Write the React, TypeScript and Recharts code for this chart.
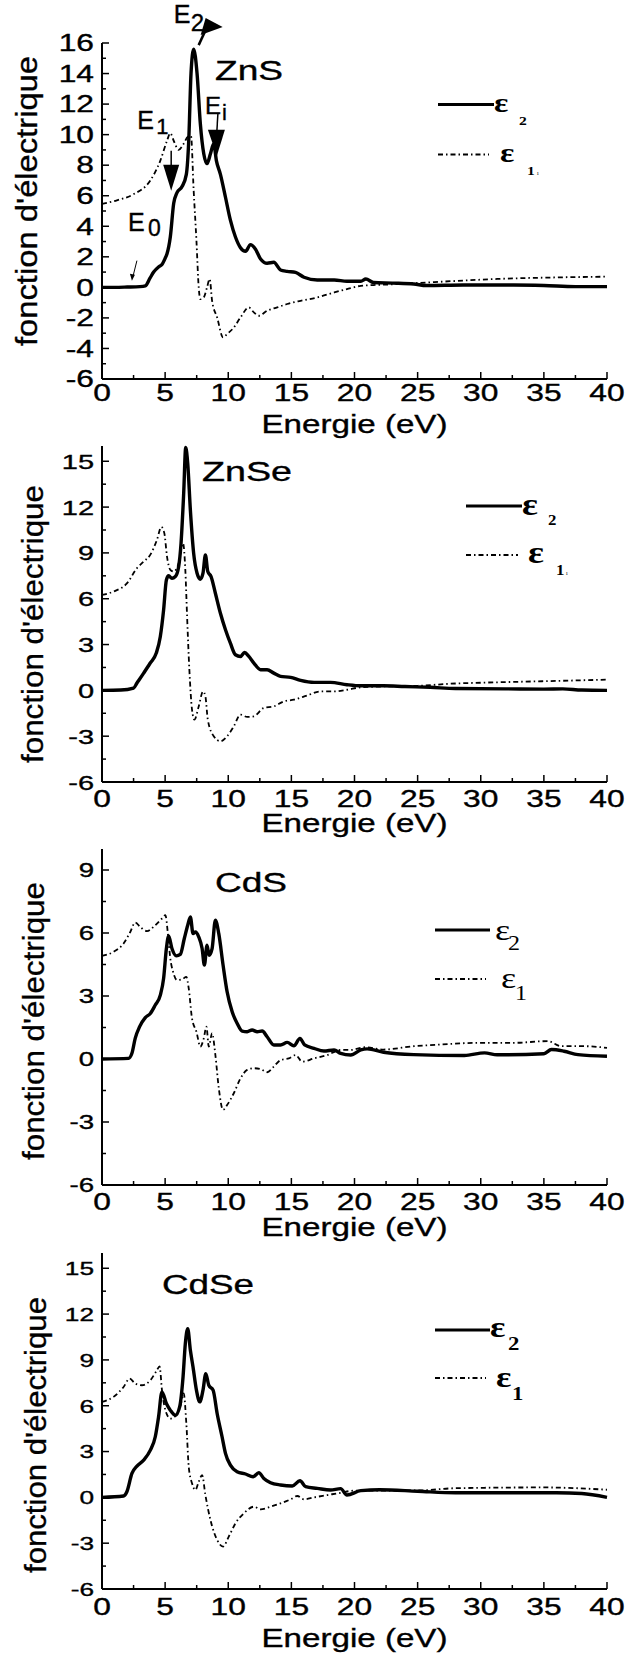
import React from 'react';
import { LineChart, Line, XAxis, YAxis, ReferenceDot, Customized } from 'recharts';

type Pt = [number, number];

// ---------- axes ----------
const ENERGY_TICKS = [0, 2.5, 5, 7.5, 10, 12.5, 15, 17.5, 20, 22.5, 25, 27.5, 30, 32.5, 35, 37.5, 40];
const ENERGY_LABELS = [0, 5, 10, 15, 20, 25, 30, 35, 40];
const TOP_TICKS = [0, 4, 8, 12, 16, 20, 24, 28, 32, 36, 40];

const ZNS_Y_TICKS = [-6, -5, -4, -3, -2, -1, 0, 1, 2, 3, 4, 5, 6, 7, 8, 9, 10, 11, 12, 13, 14, 15, 16];
const ZNS_Y_LABELS = [-6, -4, -2, 0, 2, 4, 6, 8, 10, 12, 14, 16];
const WIDE_Y_TICKS = [-6, -4.5, -3, -1.5, 0, 1.5, 3, 4.5, 6, 7.5, 9, 10.5, 12, 13.5, 15];
const WIDE_Y_LABELS = [-6, -3, 0, 3, 6, 9, 12, 15];
const WIDE_RIGHT_TICKS = [-6, -3.8, -1.6, 0.6, 2.8, 5, 7.2, 9.4, 11.6, 13.8, 16];
const CDS_Y_TICKS = [-6, -4.5, -3, -1.5, 0, 1.5, 3, 4.5, 6, 7.5, 9];
const CDS_Y_LABELS = [-6, -3, 0, 3, 6, 9];
const CDS_RIGHT_TICKS = [-6, -4.4, -2.8, -1.2, 0.4, 2, 3.6, 5.2, 6.8, 8.4, 10];

// ---------- data (energy eV, value) ----------
const ZNS_EPS2: Pt[] = [[0, 0], [1, 0], [2, 0.02], [3, 0.05], [3.43, 0.1], [3.8, 0.6], [4.09, 1.0], [4.5, 1.35], [4.75, 1.5], [5.0, 1.9], [5.15, 2.2], [5.41, 3.3], [5.68, 5.5], [5.94, 6.2], [6.34, 6.6], [6.68, 7.4], [6.87, 9.6], [7.05, 14.0], [7.26, 15.6], [7.53, 14.0], [7.79, 10.7], [8.06, 8.75], [8.32, 8.1], [8.59, 8.75], [8.85, 9.4], [9.06, 8.3], [9.38, 7.4], [9.78, 5.9], [10.17, 4.4], [10.57, 3.3], [10.97, 2.6], [11.37, 2.36], [11.76, 2.8], [12.16, 2.5], [12.56, 1.86], [13.08, 1.58], [13.61, 1.64], [14.14, 1.14], [14.67, 1.05], [15.33, 0.98], [16.0, 0.66], [17.05, 0.48], [18.4, 0.48], [19.4, 0.4], [20.5, 0.4], [20.9, 0.55], [21.5, 0.32], [23, 0.28], [24.7, 0.22], [25.7, 0.12], [28.6, 0.15], [32.6, 0.15], [35, 0.12], [37.5, 0.05], [40, 0.05]];
const ZNS_EPS1: Pt[] = [[0, 5.47], [1.18, 5.7], [2.5, 6.1], [3.83, 7.0], [4.62, 8.3], [5.15, 9.6], [5.41, 10.1], [5.68, 9.6], [6.07, 9.0], [6.47, 9.4], [6.79, 9.85], [7.05, 9.9], [7.26, 6.35], [7.48, 3.06], [7.66, 0], [7.79, -0.77], [8.06, -0.66], [8.32, 0], [8.53, 0.55], [8.72, -0.88], [9.12, -1.97], [9.59, -3.28], [9.91, -3.06], [10.44, -2.63], [10.97, -1.97], [11.63, -1.31], [12.03, -1.64], [12.42, -1.86], [13.08, -1.53], [13.88, -1.31], [14.67, -1.09], [15.73, -0.88], [17.05, -0.66], [18.4, -0.33], [19.4, -0.11], [20.5, 0.1], [21.5, 0.15], [23, 0.2], [26, 0.33], [28, 0.42], [31.3, 0.55], [36.6, 0.66], [40, 0.7]];

const ZNSE_EPS2: Pt[] = [[0, 0], [1.5, 0.02], [2.5, 0.15], [2.77, 0.48], [3.3, 1.13], [3.82, 1.79], [4.3, 2.44], [4.62, 3.53], [4.88, 5.27], [5.1, 7.23], [5.28, 7.5], [5.54, 7.34], [5.81, 7.45], [6.07, 8.1], [6.26, 9.63], [6.47, 12.9], [6.63, 15.9], [6.79, 14.86], [7.0, 11.8], [7.26, 8.97], [7.53, 7.67], [7.79, 7.28], [8.0, 7.67], [8.19, 8.87], [8.38, 7.78], [8.64, 7.45], [8.98, 6.36], [9.38, 5.05], [9.78, 3.97], [10.17, 3.09], [10.57, 2.33], [10.97, 2.22], [11.29, 2.48], [11.63, 2.22], [12.03, 1.79], [12.56, 1.35], [13.08, 1.35], [13.61, 1.13], [14.14, 0.92], [14.94, 0.85], [15.73, 0.65], [16.8, 0.52], [18.1, 0.52], [19.4, 0.37], [20.5, 0.3], [22.3, 0.3], [24, 0.25], [26, 0.2], [28, 0.12], [32, 0.1], [35, 0.08], [36.5, 0.1], [38, 0.02], [40, 0.0]];
const ZNSE_EPS1: Pt[] = [[0, 6.25], [0.91, 6.47], [1.97, 7.0], [2.77, 8.0], [3.3, 8.43], [3.82, 8.87], [4.35, 9.85], [4.7, 10.7], [4.94, 10.28], [5.15, 8.76], [5.41, 7.89], [5.68, 7.78], [6.07, 8.32], [6.42, 9.63], [6.6, 7.89], [6.74, 4.84], [6.92, 1.35], [7.13, -1.26], [7.32, -1.92], [7.66, -1.05], [8.0, -0.07], [8.19, -0.39], [8.38, -1.92], [8.85, -3.0], [9.38, -3.33], [9.91, -3.0], [10.44, -2.35], [10.97, -1.59], [11.5, -1.74], [12.03, -1.7], [12.82, -1.15], [13.61, -1.05], [14.41, -0.72], [15.2, -0.61], [16.26, -0.33], [17.3, -0.07], [18.4, -0.07], [19.4, 0.04], [20.5, 0.2], [22, 0.25], [25, 0.3], [28, 0.45], [30, 0.5], [35, 0.6], [40, 0.7]];

const CDS_EPS2: Pt[] = [[0, 0], [2.1, 0.03], [2.37, 0.27], [2.63, 0.98], [2.98, 1.54], [3.43, 1.97], [3.83, 2.17], [4.22, 2.57], [4.62, 3.04], [4.88, 3.84], [5.1, 5.26], [5.28, 5.86], [5.54, 5.26], [5.89, 4.91], [6.2, 4.98], [6.52, 5.74], [6.79, 6.37], [7.0, 6.77], [7.21, 5.97], [7.4, 6.05], [7.66, 5.82], [7.93, 5.26], [8.11, 4.47], [8.32, 5.42], [8.48, 4.94], [8.72, 5.26], [8.98, 6.61], [9.25, 5.97], [9.59, 4.47], [9.91, 3.2], [10.31, 2.25], [10.7, 1.7], [11.1, 1.33], [11.5, 1.3], [11.89, 1.38], [12.29, 1.3], [12.69, 1.33], [13.08, 1.06], [13.61, 0.67], [14.14, 0.67], [14.67, 0.79], [15.2, 0.63], [15.68, 0.98], [16.05, 0.67], [16.79, 0.51], [17.58, 0.38], [18.38, 0.43], [18.9, 0.27], [19.7, 0.19], [20.5, 0.43], [21, 0.48], [22.3, 0.32], [24.7, 0.21], [28.7, 0.17], [30.3, 0.29], [31.3, 0.2], [35, 0.25], [35.6, 0.45], [36.6, 0.37], [37.7, 0.21], [40, 0.13]];
const CDS_EPS1: Pt[] = [[0, 4.91], [0.91, 5.1], [1.71, 5.5], [2.24, 6.05], [2.63, 6.5], [3.03, 6.29], [3.56, 6.09], [4.22, 6.37], [4.75, 6.69], [5.02, 6.85], [5.23, 5.9], [5.41, 4.79], [5.63, 4.15], [5.94, 3.76], [6.34, 3.79], [6.68, 3.91], [6.87, 3.36], [7.13, 1.93], [7.48, 1.3], [7.79, 0.59], [8.06, 0.98], [8.27, 1.54], [8.46, 0.59], [8.72, 1.22], [8.98, 0.19], [9.25, -1.39], [9.59, -2.42], [9.91, -2.19], [10.44, -1.63], [10.97, -0.92], [11.5, -0.52], [12.03, -0.44], [12.56, -0.48], [13.08, -0.63], [13.61, -0.36], [14.14, -0.05], [14.8, 0.03], [15.33, 0.19], [15.86, -0.13], [16.79, 0.03], [17.85, 0.19], [18.9, 0.43], [19.7, 0.43], [20.8, 0.56], [22.3, 0.45], [24.7, 0.61], [26, 0.66], [30, 0.77], [32.6, 0.77], [35.3, 0.85], [36.4, 0.61], [38.2, 0.61], [40, 0.53]];

const CDSE_EPS2: Pt[] = [[0, 0], [1.71, 0.09], [1.97, 0.37], [2.37, 1.57], [2.77, 2.05], [3.3, 2.44], [3.83, 3.09], [4.22, 3.97], [4.48, 5.27], [4.75, 6.91], [5.1, 6.14], [5.41, 5.71], [5.81, 5.38], [6.15, 5.93], [6.42, 7.89], [6.6, 10.07], [6.79, 11.05], [7.0, 9.63], [7.21, 8.54], [7.48, 7.02], [7.74, 6.25], [8.0, 7.02], [8.22, 8.1], [8.46, 7.34], [8.8, 7.02], [9.12, 5.49], [9.51, 3.97], [9.78, 2.88], [10.17, 2.11], [10.7, 1.68], [11.37, 1.53], [11.97, 1.35], [12.42, 1.61], [12.82, 1.24], [13.35, 0.96], [14.14, 0.81], [15.07, 0.74], [15.68, 1.09], [16.13, 0.7], [17.05, 0.59], [18.1, 0.48], [18.9, 0.57], [19.4, 0.15], [20.5, 0.44], [22, 0.5], [25, 0.4], [28, 0.3], [32, 0.3], [36, 0.3], [38, 0.25], [40, 0.0]];
const CDSE_EPS1: Pt[] = [[0, 6.25], [0.91, 6.58], [1.71, 7.23], [2.19, 7.78], [2.63, 7.45], [3.16, 7.34], [3.83, 7.67], [4.35, 8.32], [4.56, 8.58], [4.75, 7.02], [5.02, 5.71], [5.41, 5.16], [5.81, 5.32], [6.2, 5.93], [6.47, 6.8], [6.68, 4.84], [6.87, 2.0], [7.13, 0.92], [7.4, 0.48], [7.66, 1.02], [7.93, 1.46], [8.19, 0.15], [8.59, -1.48], [9.12, -2.79], [9.59, -3.22], [10.04, -2.57], [10.57, -1.7], [11.23, -1.05], [12.03, -0.61], [12.56, -0.78], [13.35, -0.61], [14.14, -0.39], [14.94, -0.13], [15.47, 0.09], [16.0, -0.13], [16.79, 0], [17.85, 0.15], [18.9, 0.3], [19.97, 0.44], [22, 0.45], [25, 0.45], [28, 0.6], [35, 0.65], [40, 0.5]];

// ZnS transition annotations (energy, value at arrow tip)
const ZNS_MARKS = [
  { name: 'E0', x: 2.37, y: 0.44 },
  { name: 'E1', x: 5.48, y: 6.33 },
  { name: 'E2', x: 7.26, y: 15.6 },
  { name: 'Ei', x: 9.1, y: 8.62 },
];

const toRows = (pts: Pt[]) => pts.map(([x, y]) => ({ x, y }));

// ---------- styling ----------
const SANS = "'Liberation Sans', Arial, sans-serif";
const SERIF = "'Liberation Serif', 'Times New Roman', serif";
const SX = 1.38;
const PLOT_H = 336;
const DASH = '5 3 1.5 3';
const INK = { fill: '#000', stroke: '#000', strokeWidth: 0.35 };

type Legend = {
  solid: [number, number, number];
  dash: [number, number, number];
  e2: [number, number]; s2: [number, number];
  e1: [number, number]; s1: [number, number];
  eSize: number; sSize: number; bold: boolean; tiny: boolean;
};

type Cfg = {
  key: string; name: string; chartTop: number; plotTop: number;
  domain: [number, number]; yTicks: number[]; yLabels: number[]; right: number[];
  yFont: number; xDy: number; eps2: Pt[]; eps1: Pt[];
  title: { x: number; y: number; len: number };
  yTitle: { x: number; cy: number; len: number };
  xTitleY: number;
  legend: Legend;
  marks: boolean;
};

const PANELS: Cfg[] = [
  {
    key: 'zns', name: 'ZnS', chartTop: 0, plotTop: 43, domain: [-6, 16],
    yTicks: ZNS_Y_TICKS, yLabels: ZNS_Y_LABELS, right: WIDE_RIGHT_TICKS, yFont: 23, xDy: 22,
    eps2: ZNS_EPS2, eps1: ZNS_EPS1,
    title: { x: 215, y: 80, len: 68 }, yTitle: { x: 37, cy: 201, len: 290 }, xTitleY: 433,
    legend: { solid: [438, 494, 104.5], dash: [438, 489, 154.5], e2: [494, 112], s2: [519, 125], e1: [500, 162], s1: [527, 175], eSize: 28, sSize: 13, bold: true, tiny: true },
    marks: true,
  },
  {
    key: 'znse', name: 'ZnSe', chartTop: 416, plotTop: 446, domain: [-6, 16],
    yTicks: WIDE_Y_TICKS, yLabels: WIDE_Y_LABELS, right: WIDE_RIGHT_TICKS, yFont: 21, xDy: 25,
    eps2: ZNSE_EPS2, eps1: ZNSE_EPS1,
    title: { x: 202, y: 481, len: 90 }, yTitle: { x: 43, cy: 624, len: 278 }, xTitleY: 832,
    legend: { solid: [466, 522, 506], dash: [466, 518, 555], e2: [522, 515], s2: [548, 525], e1: [528, 563], s1: [556, 575], eSize: 31, sSize: 14, bold: true, tiny: true },
    marks: false,
  },
  {
    key: 'cds', name: 'CdS', chartTop: 819, plotTop: 849, domain: [-6, 10],
    yTicks: CDS_Y_TICKS, yLabels: CDS_Y_LABELS, right: CDS_RIGHT_TICKS, yFont: 20, xDy: 25,
    eps2: CDS_EPS2, eps1: CDS_EPS1,
    title: { x: 215, y: 892, len: 72 }, yTitle: { x: 44, cy: 1021, len: 278 }, xTitleY: 1236,
    legend: { solid: [435, 490, 930], dash: [435, 486, 979], e2: [495, 940], s2: [508, 950], e1: [501, 988], s1: [515, 1000], eSize: 30, sSize: 20, bold: false, tiny: false },
    marks: false,
  },
  {
    key: 'cdse', name: 'CdSe', chartTop: 1223, plotTop: 1253, domain: [-6, 16],
    yTicks: WIDE_Y_TICKS, yLabels: WIDE_Y_LABELS, right: WIDE_RIGHT_TICKS, yFont: 19, xDy: 26,
    eps2: CDSE_EPS2, eps1: CDSE_EPS1,
    title: { x: 162, y: 1294, len: 92 }, yTitle: { x: 46, cy: 1435, len: 276 }, xTitleY: 1647,
    legend: { solid: [435, 490, 1330], dash: [435, 486, 1378], e2: [490, 1337], s2: [508, 1350], e1: [496, 1387], s1: [512, 1400], eSize: 30, sSize: 19, bold: true, tiny: false },
    marks: false,
  },
];

// ---------- tick renderers ----------
const makeXTick = (dy: number) => (props: any) => {
  const { x, y, payload } = props;
  const v = payload.value;
  const major = ENERGY_LABELS.includes(v);
  return (
    <g>
      <line x1={x} y1={y} x2={x} y2={y - (major ? 7 : 4)} stroke="#000" strokeWidth={1.5} />
      {major && (
        <text transform={`translate(${x},${y + dy}) scale(${SX},1)`} textAnchor="middle" fontFamily={SANS} fontSize={23} {...INK}>
          {v}
        </text>
      )}
    </g>
  );
};

const makeYTick = (labels: number[], fs: number) => (props: any) => {
  const { x, y, payload } = props;
  const v = payload.value;
  const major = labels.includes(v);
  return (
    <g>
      <line x1={x} y1={y} x2={x + (major ? 7 : 4)} y2={y} stroke="#000" strokeWidth={1.5} />
      {major && (
        <text transform={`translate(${x - 8},${y + fs * 0.36}) scale(${SX},1)`} textAnchor="end" fontFamily={SANS} fontSize={fs} {...INK}>
          {v}
        </text>
      )}
    </g>
  );
};

const TopTick = (props: any) => {
  const { x, y } = props;
  return <line x1={x} y1={y} x2={x} y2={y + 5} stroke="#000" strokeWidth={1.2} />;
};
const RightTick = (props: any) => {
  const { x, y } = props;
  return <line x1={x} y1={y} x2={x - 5} y2={y} stroke="#000" strokeWidth={1.2} />;
};

// ---------- annotations (ZnS) ----------
const markShape = (name: string) => (props: any) => {
  const { cx, cy } = props;
  if (cx == null || cy == null) return <g />;
  const t = (dx: number, dy: number, s: string, fs: number) => (
    <text x={cx + dx} y={cy + dy} fontFamily={SANS} fontSize={fs} {...INK}>{s}</text>
  );
  if (name === 'E2') {
    return (
      <g>
        {t(-20, -26, 'E', 25)}
        {t(-3, -18, '2', 24)}
        <line x1={cx + 5} y1={cy - 4} x2={cx + 11} y2={cy - 17} stroke="#000" strokeWidth={2.5} />
        <polygon points={`${cx + 7},${cy - 14} ${cx + 12},${cy - 31} ${cx + 29},${cy - 22}`} fill="#000" />
      </g>
    );
  }
  if (name === 'E1') {
    return (
      <g>
        {t(-34, -62, 'E', 25)}
        {t(-15, -57, '1', 22)}
        <line x1={cx} y1={cy - 40} x2={cx} y2={cy - 25} stroke="#000" strokeWidth={1.5} />
        <polygon points={`${cx - 8},${cy - 26} ${cx + 8},${cy - 26} ${cx},${cy}`} fill="#000" />
      </g>
    );
  }
  if (name === 'E0') {
    return (
      <g>
        {t(-4, -50, 'E', 25)}
        {t(16, -45, '0', 23)}
        <line x1={cx + 5} y1={cy - 20} x2={cx + 1} y2={cy - 4} stroke="#000" strokeWidth={1} />
        <polygon points={`${cx},${cy} ${cx - 2},${cy - 7} ${cx + 3},${cy - 6}`} fill="#000" />
      </g>
    );
  }
  return (
    <g>
      {t(-12, -42, 'E', 24)}
      {t(5, -36, 'i', 22)}
      <line x1={cx + 1} y1={cy - 42} x2={cx} y2={cy - 25} stroke="#000" strokeWidth={1.5} />
      <polygon points={`${cx - 9},${cy - 26} ${cx + 8},${cy - 26} ${cx},${cy}`} fill="#000" />
    </g>
  );
};

// ---------- decorations (titles, axis titles, legend) ----------
const Decor = ({ cfg }: { cfg: Cfg }) => {
  const t = cfg.chartTop;
  const L = cfg.legend;
  const w = L.bold ? 'bold' : 'normal';
  return (
    <g>
      <text x={cfg.title.x} y={cfg.title.y - t} fontFamily={SANS} fontSize={27} textLength={cfg.title.len} lengthAdjust="spacingAndGlyphs" {...INK}>
        {cfg.name}
      </text>
      <text transform={`translate(${cfg.yTitle.x},${cfg.yTitle.cy - t}) rotate(-90)`} textAnchor="middle" fontFamily={SANS} fontSize={30} textLength={cfg.yTitle.len} lengthAdjust="spacingAndGlyphs" {...INK}>
        fonction d'électrique
      </text>
      <text x={354.5} y={cfg.xTitleY - t} textAnchor="middle" fontFamily={SANS} fontSize={25} textLength={186} lengthAdjust="spacingAndGlyphs" {...INK}>
        Energie (eV)
      </text>
      <line x1={L.solid[0]} x2={L.solid[1]} y1={L.solid[2] - t} y2={L.solid[2] - t} stroke="#000" strokeWidth={3.2} />
      <line x1={L.dash[0]} x2={L.dash[1]} y1={L.dash[2] - t} y2={L.dash[2] - t} stroke="#000" strokeWidth={1.8} strokeDasharray={DASH} />
      <text transform={`translate(${L.e2[0]},${L.e2[1] - t}) scale(1.2,1)`} fontFamily={SERIF} fontWeight={w} fontSize={L.eSize} fill="#000">ε</text>
      <text transform={`translate(${L.s2[0]},${L.s2[1] - t}) scale(1.2,1)`} fontFamily={SERIF} fontWeight={w} fontSize={L.sSize} fill="#000">2</text>
      <text transform={`translate(${L.e1[0]},${L.e1[1] - t}) scale(1.2,1)`} fontFamily={SERIF} fontWeight={w} fontSize={L.eSize} fill="#000">ε</text>
      <text transform={`translate(${L.s1[0]},${L.s1[1] - t}) scale(1.2,1)`} fontFamily={SERIF} fontWeight={w} fontSize={L.sSize} fill="#000">1</text>
      {L.tiny && (
        <text x={L.s1[0] + 10} y={L.s1[1] - t} fontFamily={SERIF} fontSize={6} fill="#000">ı</text>
      )}
    </g>
  );
};

const Panel = ({ cfg }: { cfg: Cfg }) => {
  const mTop = cfg.plotTop - cfg.chartTop;
  const H = mTop + PLOT_H + 75;
  return (
    <div style={{ position: 'absolute', left: 0, top: cfg.chartTop, width: 627, height: H }}>
      <LineChart width={627} height={H} margin={{ top: mTop, right: 20, bottom: 0, left: 0 }}>
        <XAxis
          xAxisId="b" dataKey="x" type="number" domain={[0, 40]} ticks={ENERGY_TICKS} interval={0}
          height={75} tickSize={0} tickMargin={0} tickLine={false}
          axisLine={{ stroke: '#000', strokeWidth: 2 }} tick={makeXTick(cfg.xDy)}
        />
        <XAxis
          xAxisId="t" orientation="top" type="number" domain={[0, 40]} ticks={TOP_TICKS} interval={0}
          height={0} tickSize={0} tickMargin={0} tickLine={false} allowDataOverflow
          axisLine={{ stroke: '#000', strokeWidth: 2 }} tick={TopTick}
        />
        <YAxis
          yAxisId="l" type="number" domain={cfg.domain} ticks={cfg.yTicks} interval={0}
          width={102} tickSize={0} tickMargin={0} tickLine={false}
          axisLine={{ stroke: '#000', strokeWidth: 2 }} tick={makeYTick(cfg.yLabels, cfg.yFont)}
        />
        <YAxis
          yAxisId="r" orientation="right" type="number" domain={cfg.domain} ticks={cfg.right} interval={0}
          width={0} tickSize={0} tickMargin={0} tickLine={false} allowDataOverflow
          axisLine={{ stroke: '#000', strokeWidth: 2 }} tick={RightTick}
        />
        <Line
          xAxisId="b" yAxisId="l" data={toRows(cfg.eps1)} dataKey="y" type="monotone"
          stroke="#000" strokeWidth={1.8} strokeDasharray={DASH} dot={false} isAnimationActive={false}
        />
        <Line
          xAxisId="b" yAxisId="l" data={toRows(cfg.eps2)} dataKey="y" type="monotone"
          stroke="#000" strokeWidth={3.4} dot={false} isAnimationActive={false}
        />
        {cfg.marks &&
          ZNS_MARKS.map((m) => (
            <ReferenceDot
              key={m.name} xAxisId="b" yAxisId="l" x={m.x} y={m.y} r={1} ifOverflow="visible"
              shape={markShape(m.name)}
            />
          ))}
        <Customized component={<Decor cfg={cfg} />} />
      </LineChart>
    </div>
  );
};

export default function App() {
  return (
    <div style={{ position: 'absolute', left: 0, top: 0, width: 627, height: 1661, overflow: 'hidden', background: '#fff' }}>
      {PANELS.map((p) => (
        <Panel key={p.key} cfg={p} />
      ))}
    </div>
  );
}
